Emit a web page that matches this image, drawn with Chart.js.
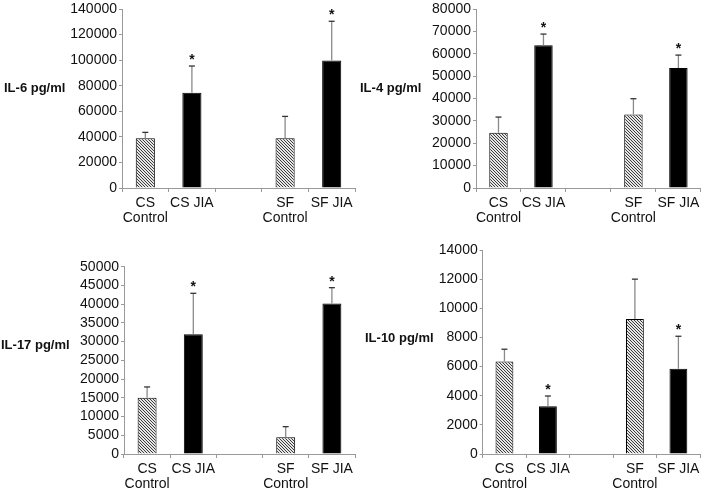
<!DOCTYPE html>
<html lang="en">
<head>
<meta charset="UTF-8">
<title>Cytokine levels</title>
<script src="https://cdn.jsdelivr.net/npm/chart.js"></script>
<style>
  body { margin: 0; background: #fff; }
  #wrap { position: relative; width: 703px; height: 490px; overflow: hidden; }
  .panel { position: absolute; }
</style>
</head>
<body>
<div id="wrap">
  <div class="panel" style="left:0;top:0;width:360px;height:240px"><canvas id="il6"></canvas></div>
  <div class="panel" style="left:350px;top:0;width:353px;height:240px"><canvas id="il4"></canvas></div>
  <div class="panel" style="left:0;top:240px;width:360px;height:250px"><canvas id="il17"></canvas></div>
  <div class="panel" style="left:350px;top:240px;width:353px;height:250px"><canvas id="il10"></canvas></div>
</div>
<script>
// categories (middle one is the empty gap)
const categories = [['CS', 'Control'], 'CS JIA', '', ['SF', 'Control'], 'SF JIA'];
const isControl = [true, false, false, true, false];
const starred = [false, true, false, false, true];

// means and upper error (SEM) per panel
const il6Mean = [38900, 74400, null, 38900, 99800];
const il6Err = [4600, 21000, null, 17100, 30600];
const il4Mean = [24700, 63800, null, 32900, 53600];
const il4Err = [7000, 5000, null, 7000, 5800];
const il17Mean = [15000, 32000, null, 4500, 40200];
const il17Err = [2900, 10900, null, 2800, 4200];
const il10Mean = [6350, 3280, null, 9270, 5850];
const il10Err = [840, 700, null, 2730, 2230];

Chart.defaults.font.family = '"Liberation Sans", Arial, sans-serif';
Chart.defaults.color = '#111';

// diagonal hatch for the control bars
function makeHatch() {
    const c = document.createElement('canvas');
    c.width = 3; c.height = 3;
    const ctx = c.getContext('2d');
    for (let x = 0; x < 3; x++) {
        for (let y = 0; y < 3; y++) {
            ctx.fillStyle = ((x - y + 3) % 3 === 0) ? '#3c3c3c' : '#e6e6e6';
            ctx.fillRect(x, y, 1, 1);
        }
    }
    return c.getContext('2d').createPattern(c, 'repeat');
}
const hatch = makeHatch();

// error whiskers, stars and the side label
const extras = {
    id: 'extras',
    afterDatasetsDraw(chart) {
        const o = chart.options.plugins.extras;
        const ctx = chart.ctx;
        const meta = chart.getDatasetMeta(0);
        const y = chart.scales.y;
        ctx.save();
        o.means.forEach((m, i) => {
            if (m === null) return;
            const bar = meta.data[i];
            const top = y.getPixelForValue(m + o.errs[i]);
            ctx.strokeStyle = '#8a8a8a';
            ctx.lineWidth = 1.3;
            ctx.beginPath();
            ctx.moveTo(bar.x, bar.y);
            ctx.lineTo(bar.x, top);
            ctx.stroke();
            ctx.strokeStyle = '#333';
            ctx.beginPath();
            ctx.moveTo(bar.x - 3, top);
            ctx.lineTo(bar.x + 3, top);
            ctx.stroke();
            if (starred[i]) {
                ctx.fillStyle = '#111';
                ctx.font = 'bold 14px "Liberation Sans", Arial, sans-serif';
                ctx.textAlign = 'center';
                ctx.textBaseline = 'alphabetic';
                ctx.fillText('*', bar.x, top - 2);
            }
        });
        ctx.fillStyle = '#111';
        ctx.font = 'bold 13px "Liberation Sans", Arial, sans-serif';
        ctx.textAlign = 'left';
        ctx.textBaseline = 'middle';
        ctx.fillText(o.label, o.labelX, o.labelY);
        ctx.restore();
    }
};

function makeChart(id, label, means, errs, yMax, yStep, box) {
    new Chart(document.getElementById(id), {
        type: 'bar',
        data: {
            labels: categories,
            datasets: [{
                data: means,
                backgroundColor: isControl.map(c => c ? hatch : '#000'),
                borderColor: '#000',
                borderWidth: 1,
                barPercentage: 0.41,
                categoryPercentage: 1,
            }],
        },
        options: {
            responsive: true,
            maintainAspectRatio: false,
            animation: false,
            layout: {
                padding: { left: 0, top: box.padTop, right: box.padRight, bottom: 0 },
            },
            plugins: {
                legend: { display: false },
                tooltip: { enabled: false },
                extras: { means: means, errs: errs, label: label, labelX: box.labelX, labelY: box.labelY },
            },
            scales: {
                x: {
                    grid: { drawOnChartArea: false, tickLength: 4, color: '#999', offset: true },
                    border: { color: '#999' },
                    ticks: {
                        maxRotation: 0, autoSkip: false, padding: 3.5,
                        font: { size: 14, lineHeight: 1.07 }, color: '#111',
                    },
                    afterFit(s) { s.height = box.xHeight; },
                },
                y: {
                    min: 0,
                    max: yMax,
                    ticks: {
                        stepSize: yStep, autoSkip: false, padding: 2,
                        font: { size: 14, lineHeight: 1 }, color: '#111',
                        callback: v => String(v),
                    },
                    grid: { drawOnChartArea: false, tickLength: 3, color: '#999' },
                    border: { color: '#999' },
                    afterFit(s) { s.width = box.yWidth; },
                },
            },
        },
        plugins: [extras],
    });
}

makeChart('il6', 'IL-6 pg/ml', il6Mean, il6Err, 140000, 20000,
    { padTop: 8, padRight: 5, yWidth: 122, xHeight: 52, labelX: 4, labelY: 88 });
makeChart('il4', 'IL-4 pg/ml', il4Mean, il4Err, 80000, 10000,
    { padTop: 8, padRight: 1, yWidth: 126, xHeight: 52, labelX: 10, labelY: 88 });
makeChart('il17', 'IL-17 pg/ml', il17Mean, il17Err, 50000, 5000,
    { padTop: 26.7, padRight: 5, yWidth: 124, xHeight: 36, labelX: 1, labelY: 105 });
makeChart('il10', 'IL-10 pg/ml', il10Mean, il10Err, 14000, 2000,
    { padTop: 10, padRight: 1, yWidth: 132.7, xHeight: 36, labelX: 15, labelY: 98 });
</script>
</body>
</html>
